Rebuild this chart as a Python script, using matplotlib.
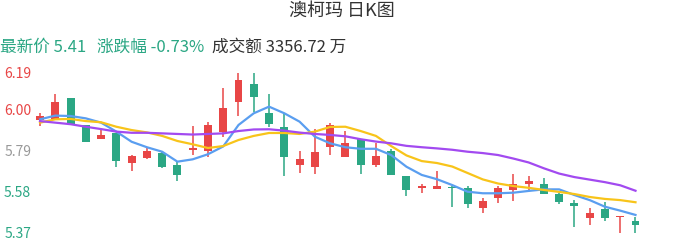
import matplotlib
matplotlib.use("Agg")
import matplotlib.pyplot as plt
import numpy as np

plt.rcParams['font.family'] = ['Noto Sans CJK SC', 'DejaVu Sans']

# daily candles
opens = [5.948, 5.955, 6.062, 5.922, 5.849, 5.881, 5.729, 5.755, 5.780, 5.719,
         5.796, 5.789, 5.888, 6.038, 6.131, 5.982, 5.910, 5.717, 5.708, 5.808,
         5.756, 5.849, 5.717, 5.790, 5.661, 5.599, 5.594, 5.604, 5.597, 5.498,
         5.549, 5.589, 5.617, 5.620, 5.568, 5.522, 5.447, 5.490, 5.448, 5.430]
closes = [5.970, 6.041, 5.927, 5.837, 5.871, 5.737, 5.763, 5.790, 5.708, 5.667,
          5.801, 5.922, 6.011, 6.151, 6.067, 5.927, 5.756, 5.750, 5.781, 5.920,
          5.832, 5.719, 5.761, 5.668, 5.589, 5.603, 5.611, 5.597, 5.519, 5.530,
          5.597, 5.620, 5.633, 5.568, 5.527, 5.508, 5.471, 5.447, 5.450, 5.410]
highs = [5.983, 6.083, 6.062, 5.922, 5.894, 5.881, 5.768, 5.808, 5.783, 5.730,
         5.918, 5.939, 6.110, 6.188, 6.188, 6.080, 5.982, 5.789, 5.900, 5.931,
         5.889, 5.849, 5.832, 5.799, 5.661, 5.620, 5.688, 5.609, 5.609, 5.546,
         5.609, 5.669, 5.661, 5.649, 5.575, 5.537, 5.498, 5.527, 5.455, 5.452]
lows = [5.917, 5.953, 5.925, 5.835, 5.849, 5.708, 5.686, 5.747, 5.699, 5.637,
        5.768, 5.759, 5.862, 5.970, 5.990, 5.914, 5.661, 5.678, 5.669, 5.768,
        5.756, 5.671, 5.708, 5.668, 5.560, 5.572, 5.594, 5.500, 5.499, 5.469,
        5.521, 5.530, 5.589, 5.566, 5.517, 5.401, 5.409, 5.430, 5.370, 5.370]

ma_blue = [5.951, 5.970, 5.968, 5.956, 5.934, 5.888, 5.836, 5.808, 5.785, 5.734,
           5.746, 5.772, 5.812, 5.922, 5.982, 6.016, 5.982, 5.939, 5.862, 5.828,
           5.808, 5.800, 5.800, 5.768, 5.708, 5.666, 5.644, 5.614, 5.580, 5.572,
           5.572, 5.575, 5.584, 5.592, 5.592, 5.563, 5.537, 5.503, 5.483, 5.461]
ma_yellow = [5.934, 5.951, 5.953, 5.942, 5.936, 5.913, 5.896, 5.884, 5.866, 5.840,
             5.823, 5.804, 5.814, 5.845, 5.866, 5.881, 5.881, 5.876, 5.888, 5.912,
             5.913, 5.891, 5.866, 5.814, 5.766, 5.737, 5.727, 5.709, 5.676, 5.643,
             5.622, 5.609, 5.600, 5.589, 5.579, 5.568, 5.553, 5.543, 5.537, 5.526]
ma_purple = [5.942, 5.934, 5.926, 5.913, 5.901, 5.888, 5.882, 5.882, 5.879, 5.876,
             5.873, 5.876, 5.879, 5.891, 5.899, 5.900, 5.893, 5.883, 5.876, 5.871,
             5.864, 5.849, 5.837, 5.828, 5.815, 5.808, 5.802, 5.795, 5.785, 5.778,
             5.768, 5.750, 5.730, 5.700, 5.673, 5.655, 5.642, 5.629, 5.613, 5.585]

tick_values = [6.19, 6.00, 5.79, 5.58, 5.37]
tick_labels = ["6.19", "6.00", "5.79", "5.58", "5.37"]

RED = '#e84646'
GREEN = '#2ba784'
GRAY = '#999999'
tick_colors = [RED, RED, GRAY, GREEN, GREEN]

W, H = 686, 241
fig = plt.figure(figsize=(W / 100, H / 100), dpi=100)
ax = fig.add_axes([34 / W, 0, (650 - 34) / W, (H - 62) / H])

x = np.arange(len(opens))
o = np.array(opens)
c = np.array(closes)
up = c >= o
colors = [RED if u else GREEN for u in up]

# wicks then bodies (doji get a thin minimum body)
ax.vlines(x, lows, highs, colors=colors, linewidth=1.1, zorder=2)
body_bottom = np.minimum(o, c)
body_h = np.maximum(np.abs(c - o), 0.009)
ax.bar(x, body_h, bottom=body_bottom, width=0.52, color=colors,
       linewidth=0, zorder=3)

ax.plot(x, ma_blue, color='#5a9ef0', linewidth=1.6, zorder=4)
ax.plot(x, ma_yellow, color='#f8c41a', linewidth=1.6, zorder=4)
ax.plot(x, ma_purple, color='#a24af0', linewidth=1.6, zorder=4)

ax.set_xlim(-0.393, 39.95)
ax.set_ylim(5.3274, 6.2448)
ax.set_xticks([])
ax.set_yticks(tick_values)
ax.set_yticklabels(tick_labels, fontsize=10)
for lbl, col in zip(ax.get_yticklabels(), tick_colors):
    lbl.set_color(col)
ax.tick_params(axis='y', length=0, pad=2)
for spine in ax.spines.values():
    spine.set_visible(False)

# title and header line
fig.text(342 / W, 1 - 11 / H, "澳柯玛 日K图", ha='center', va='center',
         fontsize=13, color='#333333')
hy = 1 - 47 / H
fig.text(0, hy, "最新价 5.41", ha='left', va='center', fontsize=12, color=GREEN)
fig.text(97 / W, hy, "涨跌幅 -0.73%", ha='left', va='center', fontsize=12, color=GREEN)
fig.text(212 / W, hy, "成交额 3356.72 万", ha='left', va='center', fontsize=12,
         color='#333333')

fig.savefig("out.png", dpi=100)
